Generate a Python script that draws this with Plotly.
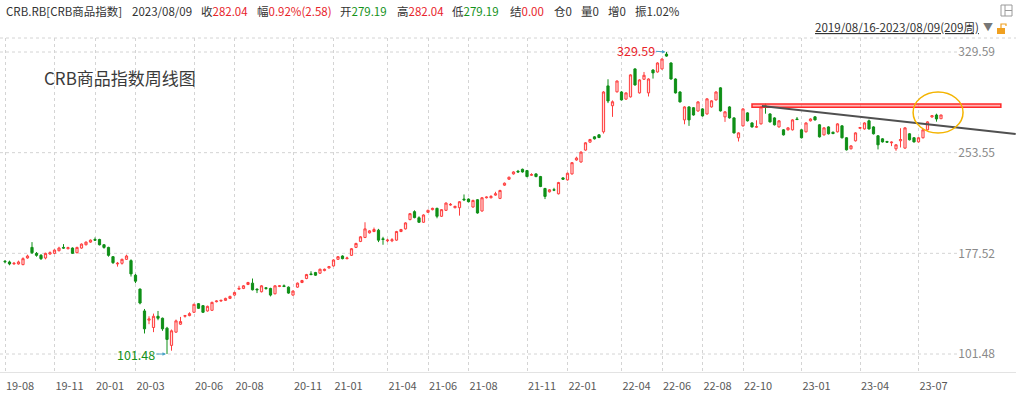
import plotly.graph_objects as go

# ---------------- data (weekly CRB index, 2019/08/16 - 2023/08/09, 209 weeks) ----------------
open_ = [
    171.5, 171.0, 169.5, 169.5, 169.0, 174.0, 182.0, 177.5, 176.0, 174.0,
    177.0, 177.5, 179.5, 182.0, 181.0, 181.5, 178.0, 181.5, 184.0, 186.0,
    188.0, 188.0, 184.0, 182.0, 175.0, 169.5, 170.0, 173.0, 172.0, 161.0,
    150.5, 134.0, 127.0, 121.5, 130.0, 128.5, 121.0, 108.0, 118.0, 124.0,
    130.0, 130.5, 133.0, 139.5, 138.0, 134.0, 134.5, 141.0, 141.5, 142.0,
    143.5, 146.0, 150.5, 151.0, 154.0, 155.0, 150.5, 148.5, 151.5, 151.0,
    147.0, 152.5, 153.0, 152.0, 146.0, 152.0, 155.5, 158.5, 162.0, 163.0,
    162.5, 164.5, 166.5, 168.0, 173.0, 175.5, 173.5, 176.0, 182.0, 186.5,
    189.5, 193.0, 194.0, 195.0, 188.5, 187.0, 187.0, 187.5, 194.0, 196.0,
    203.0, 209.0, 204.4, 201.0, 208.5, 210.5, 211.5, 205.5, 210.0, 214.0,
    212.0, 212.0, 218.5, 218.5, 212.5, 218.0, 209.5, 219.5, 219.5, 221.5,
    219.0, 229.0, 233.5, 237.5, 239.5, 241.0, 240.0, 236.5, 237.5, 235.5,
    226.5, 224.0, 225.5, 222.5, 234.5, 233.0, 237.5, 248.0, 246.5, 255.5,
    261.5, 265.5, 267.0, 269.3, 304.0, 289.0, 299.5, 299.4, 294.0, 295.7,
    316.8, 298.7, 309.0, 298.7, 316.0, 314.5, 316.8, 328.0, 321.3, 309.2,
    299.4, 278.3, 288.1, 287.5, 285.0, 286.6, 282.8, 288.1, 293.4, 302.5,
    280.6, 288.1, 279.8, 264.8, 273.8, 283.6, 276.0, 272.8, 275.3, 289.0,
    282.8, 279.8, 273.0, 270.8, 270.8, 270.8, 279.0, 270.8, 269.3, 277.6,
    280.6, 274.6, 267.0, 273.0, 269.0, 269.3, 273.8, 264.8, 256.5, 262.5,
    272.0, 271.5, 277.6, 273.0, 266.3, 264.0, 262.0, 261.0, 256.5, 262.5,
    257.0, 267.8, 264.8, 261.7, 264.8, 270.8, 280.5, 282.0, 279.19,
]
high = [
    172.5, 172.0, 171.0, 172.0, 174.5, 176.5, 186.0, 178.5, 177.0, 178.0,
    179.0, 180.5, 182.5, 184.5, 182.5, 182.0, 182.5, 185.0, 186.5, 188.0,
    189.5, 188.5, 184.5, 182.5, 175.5, 171.0, 173.5, 176.5, 173.0, 162.0,
    151.0, 135.5, 130.0, 132.0, 134.0, 129.0, 122.0, 120.0, 127.5, 129.5,
    131.0, 133.0, 139.5, 140.0, 138.5, 138.0, 141.0, 142.0, 142.5, 144.0,
    145.5, 148.5, 153.0, 153.5, 156.0, 158.5, 151.0, 153.5, 152.0, 151.5,
    153.5, 153.5, 154.0, 152.5, 149.5, 155.5, 157.5, 162.0, 164.0, 163.5,
    166.0, 166.0, 168.0, 173.0, 175.5, 176.0, 175.0, 181.5, 185.5, 190.5,
    201.0, 195.0, 197.0, 196.0, 190.0, 188.5, 189.0, 194.5, 196.0, 201.0,
    208.0, 210.0, 205.5, 207.0, 210.5, 212.0, 212.0, 211.0, 216.0, 215.5,
    213.5, 217.0, 222.0, 219.0, 218.0, 218.5, 220.0, 220.5, 221.5, 224.0,
    225.5, 231.0, 235.5, 239.5, 240.5, 241.5, 240.5, 238.0, 238.0, 236.0,
    227.0, 226.0, 227.0, 231.5, 235.0, 238.5, 246.5, 250.5, 254.5, 261.5,
    264.0, 266.0, 267.5, 300.0, 309.0, 293.0, 308.0, 300.0, 299.0, 312.8,
    317.3, 309.0, 314.5, 309.7, 316.5, 321.8, 324.8, 329.59, 321.8, 309.7,
    299.9, 288.6, 288.6, 288.0, 292.4, 287.1, 294.7, 293.2, 299.9, 303.0,
    284.9, 288.6, 280.3, 269.0, 287.1, 284.1, 276.5, 278.0, 288.6, 290.5,
    283.3, 280.3, 278.1, 271.3, 272.8, 278.8, 280.5, 271.3, 276.5, 279.5,
    281.1, 275.1, 272.8, 273.5, 269.5, 275.8, 274.3, 265.3, 259.2, 269.0,
    273.0, 276.5, 278.5, 273.5, 266.8, 264.5, 262.5, 262.0, 260.0, 272.0,
    272.8, 268.3, 265.3, 265.3, 271.3, 277.3, 282.0, 283.0, 282.04,
]
low = [
    170.0, 168.5, 169.0, 169.0, 168.5, 173.5, 177.0, 175.0, 172.5, 173.0,
    176.5, 177.0, 179.0, 181.0, 180.5, 177.0, 177.5, 181.0, 183.5, 185.5,
    187.0, 183.5, 181.0, 175.0, 169.5, 167.5, 169.0, 172.5, 160.0, 155.0,
    139.0, 117.0, 124.0, 118.0, 127.0, 119.0, 101.48, 104.0, 117.5, 123.5,
    129.0, 130.0, 132.5, 135.5, 132.5, 133.5, 134.0, 140.5, 141.0, 141.5,
    143.0, 145.5, 150.0, 150.5, 153.5, 149.5, 147.5, 148.0, 150.0, 145.0,
    146.5, 152.0, 152.0, 147.0, 145.5, 151.5, 155.0, 158.0, 161.0, 160.5,
    162.0, 164.0, 166.0, 167.5, 172.5, 173.0, 173.0, 175.5, 181.5, 186.0,
    189.0, 192.5, 193.5, 186.0, 184.0, 186.0, 186.0, 187.0, 193.5, 195.5,
    202.5, 204.0, 200.5, 200.5, 208.0, 210.0, 204.0, 205.0, 209.5, 213.5,
    211.5, 206.0, 217.0, 216.0, 212.0, 207.5, 209.0, 219.0, 219.0, 221.0,
    218.5, 228.5, 233.0, 237.0, 238.5, 238.5, 235.0, 236.0, 235.0, 227.5,
    218.5, 223.5, 224.5, 222.0, 233.0, 232.5, 237.0, 247.5, 246.0, 255.0,
    261.0, 263.5, 264.5, 268.0, 291.0, 280.6, 299.0, 293.0, 293.5, 295.2,
    304.2, 298.2, 308.5, 296.0, 309.5, 314.0, 316.3, 326.0, 308.7, 298.2,
    291.4, 275.0, 273.8, 281.5, 284.5, 280.8, 282.3, 287.6, 292.9, 284.6,
    276.8, 279.3, 268.0, 262.0, 273.3, 277.1, 272.5, 272.3, 274.8, 283.0,
    276.3, 274.1, 272.5, 266.5, 270.3, 270.3, 278.1, 264.3, 268.8, 277.1,
    277.8, 265.0, 266.5, 267.3, 267.5, 268.8, 264.3, 255.2, 256.0, 262.0,
    271.5, 271.0, 271.0, 267.3, 256.0, 261.2, 261.0, 258.5, 255.0, 257.5,
    256.5, 262.8, 261.2, 261.2, 264.3, 270.3, 280.0, 277.0, 279.19,
]
close = [
    171.2, 169.5, 170.0, 171.0, 173.5, 175.5, 178.0, 176.0, 173.5, 177.5,
    178.0, 180.0, 181.5, 181.5, 181.8, 177.5, 182.0, 184.5, 186.0, 187.5,
    187.5, 184.0, 182.0, 176.0, 170.5, 170.0, 173.0, 175.5, 162.0, 156.5,
    140.0, 120.5, 128.0, 130.0, 128.5, 120.5, 112.5, 119.0, 126.5, 126.0,
    130.5, 132.0, 139.0, 136.0, 133.0, 137.5, 140.5, 141.5, 142.0, 143.5,
    145.0, 148.0, 151.0, 153.0, 155.5, 150.0, 150.0, 153.0, 151.0, 146.0,
    153.0, 153.0, 152.5, 147.5, 149.0, 155.0, 157.0, 161.5, 161.5, 161.0,
    165.5, 165.5, 167.5, 172.5, 175.0, 173.5, 174.0, 181.0, 185.0, 190.0,
    196.0, 194.5, 195.5, 187.5, 188.0, 187.5, 187.8, 194.0, 195.5, 200.5,
    207.5, 204.5, 201.0, 206.5, 210.0, 211.5, 205.5, 210.5, 215.5, 214.5,
    213.0, 216.5, 218.0, 216.5, 217.5, 208.0, 219.5, 220.0, 220.5, 222.5,
    225.0, 230.5, 235.0, 239.0, 239.0, 239.0, 235.5, 237.0, 235.5, 228.0,
    220.5, 225.5, 225.3, 231.0, 233.5, 238.0, 246.0, 249.5, 254.0, 261.0,
    263.5, 264.0, 265.0, 299.4, 292.6, 292.0, 307.7, 293.4, 298.7, 312.3,
    304.7, 308.5, 312.0, 309.2, 313.8, 321.3, 324.3, 326.5, 309.2, 298.7,
    291.9, 288.1, 278.3, 282.0, 291.9, 281.3, 294.2, 292.7, 299.4, 285.1,
    284.4, 279.8, 268.5, 268.5, 286.6, 277.6, 273.0, 273.2, 288.1, 288.0,
    276.8, 274.6, 277.6, 267.0, 272.3, 278.3, 278.6, 264.8, 276.0, 279.0,
    278.3, 265.5, 272.3, 267.8, 268.0, 275.3, 264.8, 255.7, 258.7, 268.5,
    272.5, 276.0, 271.5, 267.8, 259.5, 261.7, 261.5, 261.5, 259.5, 263.5,
    272.3, 263.3, 261.7, 264.8, 270.8, 276.8, 281.5, 279.0, 282.04,
]

tick_labels = ['19-08', '19-11', '20-01', '20-03', '20-06', '20-08', '20-11', '21-01',
               '21-04', '21-06', '21-08', '21-11', '22-01', '22-04', '22-06', '22-08',
               '22-10', '23-01', '23-04', '23-07']
tick_index = [0, 11, 20, 29, 42, 51, 64, 73, 85, 94, 103, 116, 125, 137, 146, 155,
              164, 177, 190, 203]
y_ticks = [101.48, 177.52, 253.55, 329.59]

high_week, high_value = 147, 329.59
low_week, low_value = 36, 101.48

header = [  # (label, value, value colour)
    ('CRB.RB[CRB商品指数]', '', None),
    ('2023/08/09', '', None),
    ('收', '282.04', '#e8242b'),
    ('幅', '0.92%(2.58)', '#e8242b'),
    ('开', '279.19', '#14921a'),
    ('高', '282.04', '#e8242b'),
    ('低', '279.19', '#14921a'),
    ('结', '0.00', '#e8242b'),
    ('仓', '0', '#333333'),
    ('量', '0', '#333333'),
    ('增', '0', '#333333'),
    ('振', '1.02%', '#333333'),
]
header_px = [4, 130, 199, 255, 338, 395, 450, 508, 552, 579, 606, 633]

# ---------------- layout geometry ----------------
W, H = 1016, 398
MT, MB = 38, 26
PH = H - MT - MB
FONT = 'Noto Sans CJK SC, Microsoft YaHei, Noto Sans, sans-serif'


def pxx(px):
    return px / W


def pxy(py):
    return (H - MB - py) / PH


idx = list(range(len(close)))

fig = go.Figure(go.Candlestick(
    x=idx, open=open_, high=high, low=low, close=close,
    increasing=dict(line=dict(color='#ff3d3d', width=1), fillcolor='#ffdcdc'),
    decreasing=dict(line=dict(color='#0f8f17', width=1), fillcolor='#0f8f17'),
    whiskerwidth=0, showlegend=False, hoverinfo='skip',
))

shapes = []
# horizontal dotted grid lines (stop before the price labels)
for v in y_ticks:
    shapes.append(dict(type='line', xref='paper', yref='y', x0=0, x1=pxx(957), y0=v, y1=v,
                       line=dict(color='#d4d4d4', width=1, dash='dot'), layer='below'))
# top dotted border of plot
shapes.append(dict(type='line', xref='paper', yref='paper', x0=0, x1=1, y0=1, y1=1,
                   line=dict(color='#d4d4d4', width=1, dash='dot'), layer='below'))
# red horizontal band (resistance)
shapes.append(dict(type='rect', xref='x', yref='y', x0=166.0, x1=221.3, y0=287.8, y1=290.4,
                   line=dict(color='#ff2a2a', width=1.5), fillcolor='rgba(255,120,120,0.55)'))
# grey down-trend line
shapes.append(dict(type='line', xref='x', yref='y', x0=168.2, y0=288.8, x1=224.6, y1=267.6,
                   line=dict(color='#505050', width=2)))
# yellow ellipse
shapes.append(dict(type='circle', xref='x', yref='y', x0=201.8, x1=212.9, y0=268.4, y1=299.4,
                   line=dict(color='#f4b400', width=1.5)))
# icons top-right
shapes.append(dict(type='rect', xref='paper', yref='paper', x0=pxx(1001), x1=pxx(1012),
                   y0=pxy(16), y1=pxy(5), line=dict(color='#9a9a9a', width=1)))
shapes.append(dict(type='line', xref='paper', yref='paper', x0=pxx(1005), x1=pxx(1005),
                   y0=pxy(16), y1=pxy(5), line=dict(color='#9a9a9a', width=1)))
shapes.append(dict(type='line', xref='paper', yref='paper', x0=pxx(1005), x1=pxx(1012),
                   y0=pxy(10.5), y1=pxy(10.5), line=dict(color='#9a9a9a', width=1)))
shapes.append(dict(type='rect', xref='paper', yref='paper', x0=pxx(997), x1=pxx(1005),
                   y0=pxy(34), y1=pxy(28), line=dict(width=0), fillcolor='#f0a020'))
shapes.append(dict(type='path', xref='paper', yref='paper',
                   path=f'M {pxx(1001)},{pxy(28)} L {pxx(1001)},{pxy(24)} L {pxx(1006)},{pxy(24)} L {pxx(1006)},{pxy(26)}',
                   line=dict(color='#f0a020', width=1.2)))

annotations = []
# header
for (lab, val, col), px in zip(header, header_px):
    txt = lab if not val else f'{lab}<span style="color:{col}">{val}</span>'
    annotations.append(dict(xref='paper', yref='paper', x=pxx(px), y=pxy(11), text=txt,
                            showarrow=False, xanchor='left', yanchor='middle',
                            font=dict(family=FONT, size=11.5, color='#333333')))
# date range
annotations.append(dict(xref='paper', yref='paper', x=pxx(981), y=pxy(27),
                        text='2019/08/16-2023/08/09(209周)', showarrow=False,
                        xanchor='right', yanchor='middle',
                        font=dict(family=FONT, size=11.6, color='#333333', lineposition='under')))
annotations.append(dict(xref='paper', yref='paper', x=pxx(988), y=pxy(27), text='▼',
                        showarrow=False, xanchor='center', yanchor='middle',
                        font=dict(family=FONT, size=10, color='#777777')))
# chart title
annotations.append(dict(xref='paper', yref='paper', x=pxx(42), y=pxy(77),
                        text='CRB商品指数周线图', showarrow=False, xanchor='left',
                        yanchor='middle', font=dict(family=FONT, size=17, color='#3a3a3a')))
# high / low markers
annotations.append(dict(xref='x', yref='y', x=high_week, y=high_value, text=f'{high_value:.2f}',
                        showarrow=True, ax=-31, ay=-2, arrowhead=2, arrowsize=0.7,
                        arrowwidth=1, arrowcolor='#4aa3c8', standoff=1,
                        font=dict(family=FONT, size=12.5, color='#e8242b')))
annotations.append(dict(xref='x', yref='y', x=low_week, y=low_value, text=f'{low_value:.2f}',
                        showarrow=True, ax=-31, ay=0, arrowhead=2, arrowsize=0.7,
                        arrowwidth=1, arrowcolor='#4aa3c8', standoff=1,
                        font=dict(family=FONT, size=12.5, color='#14921a')))

fig.update_layout(
    width=W, height=H, autosize=False,
    margin=dict(l=0, r=0, t=MT, b=MB, pad=0),
    paper_bgcolor='white', plot_bgcolor='white',
    shapes=shapes, annotations=annotations,
    font=dict(family=FONT),
    hovermode=False,
    xaxis=dict(
        type='linear', range=[-5 / 4.5, (W - 5) / 4.5],
        tickmode='array', tickvals=tick_index, ticktext=tick_labels,
        showgrid=True, gridcolor='#d4d4d4', griddash='dot', gridwidth=1,
        zeroline=False, showline=True, linecolor='#e3e3e3', linewidth=1,
        ticks='', tickfont=dict(family=FONT, size=11, color='#5a5a5a'),
        ticklabelshift=15, ticklabelstandoff=4,
        rangeslider=dict(visible=False), fixedrange=True,
    ),
    yaxis=dict(
        range=[87.9, 340.16], side='right', ticklabelposition='inside',
        tickmode='array', tickvals=y_ticks, ticktext=[f'{v:.2f}' for v in y_ticks],
        showgrid=False, zeroline=False, showline=False, ticks='',
        tickfont=dict(family=FONT, size=12, color='#8a8a8a'),
        ticklabelstandoff=18, fixedrange=True,
    ),
)

fig.write_html("out.html", config={'displayModeBar': False},
               post_script="document.body.style.margin='0';document.body.style.overflow='hidden';")
